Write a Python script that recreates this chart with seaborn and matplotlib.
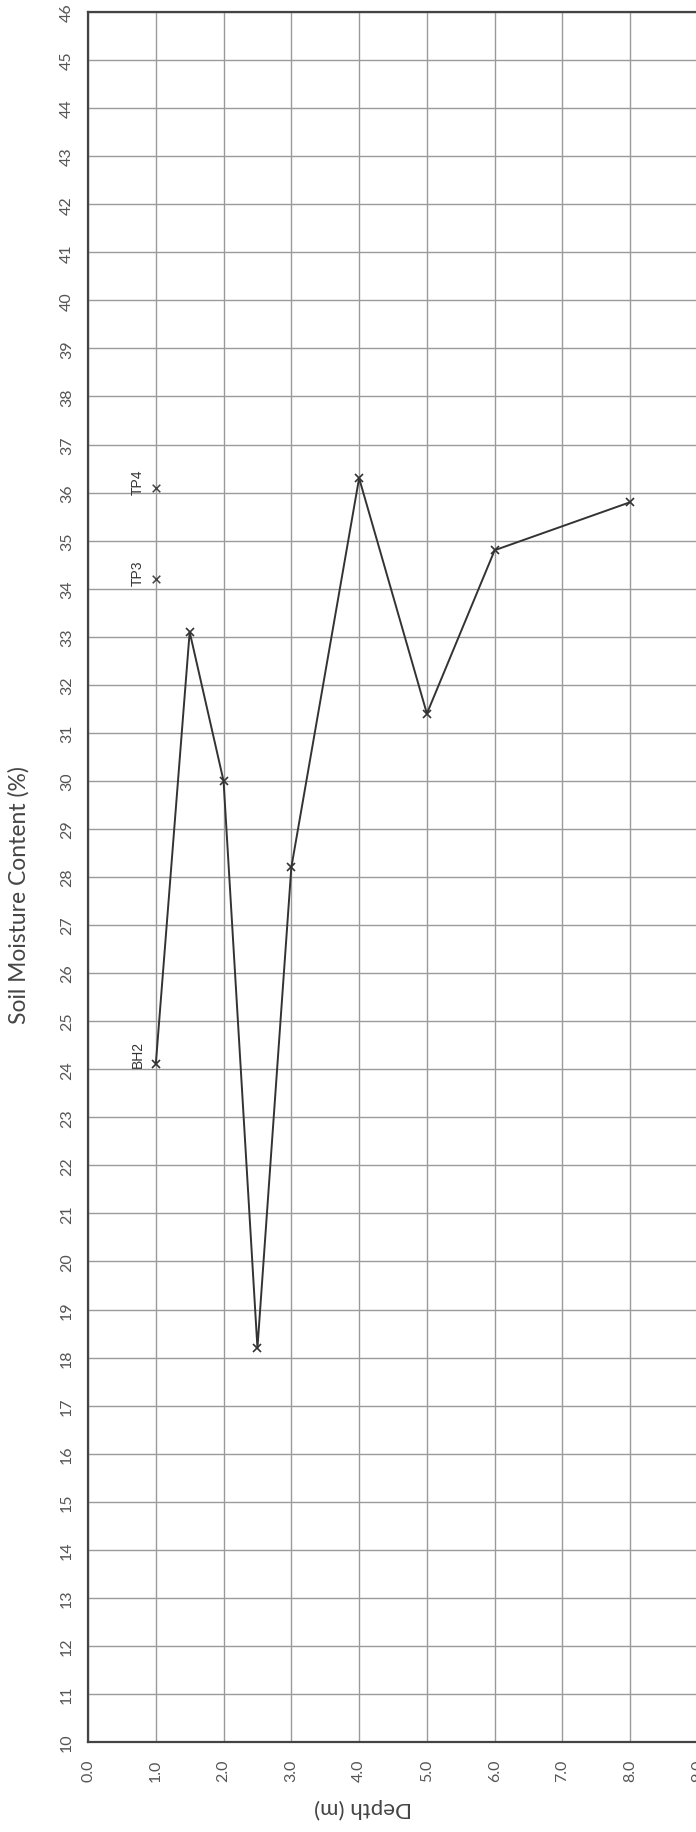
import numpy as np
import matplotlib
matplotlib.use('Agg')
import matplotlib.pyplot as plt
import seaborn as sns
import pandas as pd

# 시추공 BH2 : 깊이별 함수비
depth_bh2 = [1.0, 1.5, 2.0, 2.5, 3.0, 4.0, 5.0, 6.0, 8.0]
moisture_bh2 = [24.1, 33.1, 30.0, 18.2, 28.2, 36.3, 31.4, 34.8, 35.8]

# 시험굴 TP3, TP4
tp_names = ['TP3', 'TP4']
tp_depth = [1.0, 1.0]
tp_moisture = [34.2, 36.1]

depth_ticks = np.arange(0, 10, 1)
moisture_ticks = np.arange(10, 47, 1)

sns.set_style('white')
plt.rcParams['font.family'] = ['Lato', 'DejaVu Sans']

bh2 = pd.DataFrame({'depth': depth_bh2, 'moisture': moisture_bh2})
tp = pd.DataFrame({'name': tp_names, 'depth': tp_depth, 'moisture': tp_moisture})

fig = plt.figure(figsize=(6.96, 18.33), dpi=100)
ax = fig.add_axes([88 / 696, 90 / 1833, 610 / 696, 1730 / 1833])

sns.lineplot(data=bh2, x='depth', y='moisture', sort=False, ax=ax,
             color='#333333', linewidth=1.4, marker='x', markersize=6,
             markeredgecolor='#333333', markeredgewidth=1.2)
sns.scatterplot(data=tp, x='depth', y='moisture', ax=ax, marker='x',
                s=30, color='#444444', linewidth=1.1)

# 라벨
lab_font = ['Liberation Sans', 'DejaVu Sans']
ax.text(depth_bh2[0] - 0.26, moisture_bh2[0] - 0.05, 'BH2', rotation=90,
        ha='center', va='bottom', fontsize=10, color='#333333', family=lab_font)
for n, d, m in zip(tp_names, tp_depth, tp_moisture):
    ax.text(d - 0.26, m - 0.12, n, rotation=90, ha='center', va='bottom',
            fontsize=10, color='#333333', family=lab_font)

ax.set_xlim(0, 9)
ax.set_ylim(10, 46)
ax.set_xticks(depth_ticks)
ax.set_xticklabels(['%.1f' % v for v in depth_ticks], rotation=90)
ax.set_yticks(moisture_ticks)
ax.set_yticklabels([str(v) for v in moisture_ticks], rotation=90, va='center')
ax.tick_params(axis='both', direction='out', length=6, width=1.2,
               color='#444444', labelsize=11.5, labelcolor='#555555')
ax.tick_params(axis='x', pad=6)
ax.tick_params(axis='y', pad=4)

ax.grid(True, color='#9a9a9a', linewidth=1.0)
for s in ax.spines.values():
    s.set_color('#444444')
    s.set_linewidth(1.6)

ax.set_xlabel('')
ax.set_ylabel('Soil Moisture Content (%)', fontsize=16.5, color='#444444')
ax.yaxis.set_label_coords(-58 / 610, 0.49)
fig.text(363 / 696, 1 - 1808 / 1833, 'Depth (m)', rotation=180, ha='center',
         va='center', fontsize=16, color='#444444')

fig.savefig('out.png', dpi=100)
